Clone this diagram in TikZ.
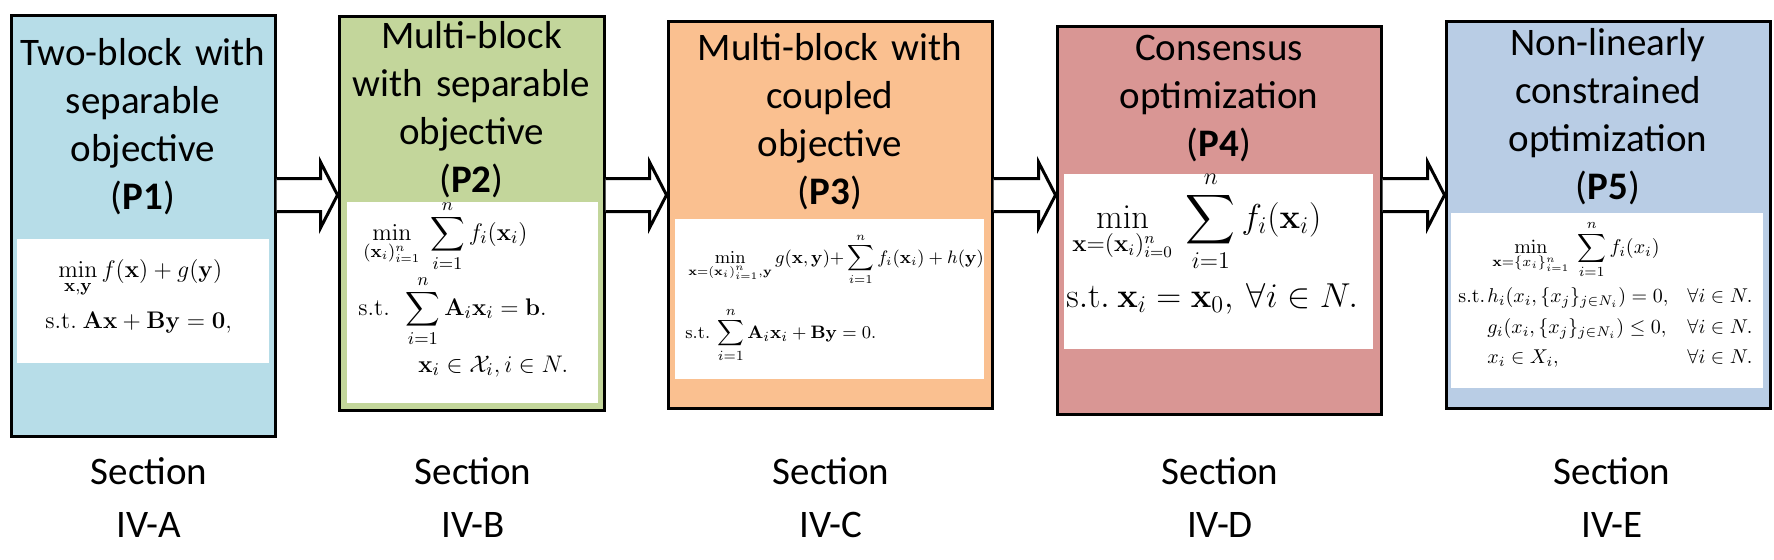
\documentclass[tikz,border=0pt]{standalone}
\usepackage{amsmath}
\usepackage[no-math]{fontspec}
\setmainfont{Carlito}
\usetikzlibrary{fit,calc}
\definecolor{cA}{HTML}{B7DDE8}
\definecolor{cB}{HTML}{C3D69B}
\definecolor{cC}{HTML}{FAC090}
\definecolor{cD}{HTML}{D99694}
\definecolor{cE}{HTML}{B9CDE5}
\begin{document}
\begin{tikzpicture}[x=0.5pt,y=-0.5pt,
  box/.style={draw=black, line width=1.5pt, inner sep=0pt},
  panel/.style={fill=white, inner sep=0pt, outer sep=0pt},
  ttl/.style={anchor=base, inner sep=0pt, text width=150pt, align=center, font=\fontsize{19.5}{24}\selectfont},
  sec/.style={anchor=base, inner sep=0pt, text width=100pt, align=center, font=\fontsize{19.5}{26.5}\selectfont},
  fm/.style={anchor=base west, inner sep=0pt, font=\fontsize{#1}{#1}\selectfont},
  blockarrow/.style={draw=black, fill=white, line width=1.5pt, line join=miter}]
\useasboundingbox (0,0) rectangle (1774,559);

% boxes
\node[box, fill=cA, fit={(11,15) (275,436)}] (b1) {};
\node[box, fill=cB, fit={(339,16) (604,410)}] (b2) {};
\node[box, fill=cC, fit={(668,21) (992,408)}] (b3) {};
\node[box, fill=cD, fit={(1057,26) (1381,414)}] (b4) {};
\node[box, fill=cE, fit={(1446,21) (1770,408)}] (b5) {};

% white panels
\node[panel, fit={(17,239) (269,363)}] (w1) {};
\node[panel, fit={(347,202) (598,403)}] (w2) {};
\node[panel, fit={(675,219) (984,379)}] (w3) {};
\node[panel, fit={(1064,174) (1373,349)}] (w4) {};
\node[panel, fit={(1451,213) (1763,388)}] (w5) {};

% block arrows
\coordinate (ay) at (0,195);
\foreach \s/\t in {b1/b2,b2/b3,b3/b4,b4/b5}{
  \draw[blockarrow] let \p1=(\s.east |- ay), \p2=(\t.west |- ay) in
    (\x1,\y1+8.25pt) -- (\x2-8.5pt,\y1+8.25pt) -- (\x2-8.5pt,\y1+16.5pt) -- (\x2,\y1)
    -- (\x2-8.5pt,\y1-16.5pt) -- (\x2-8.5pt,\y1-8.25pt) -- (\x1,\y1-8.25pt);
}

% titles
\node[ttl] (t1) at (143,65) {Two-block with\\separable\\objective\\(\textbf{P1})};
\node[ttl] (t2) at (471.5,48) {Multi-block\\with separable\\objective\\(\textbf{P2})};
\node[ttl] (t3) at (830,60) {Multi-block with\\coupled\\objective\\(\textbf{P3})};
\node[ttl] (t4) at (1219,60) {Consensus\\optimization\\(\textbf{P4})};
\node[ttl] (t5) at (1608,55) {Non-linearly\\constrained\\optimization\\(\textbf{P5})};

% formulas P1
\node[fm=13] (f1a) at (58,277) {$\displaystyle\min_{\mathbf{x},\mathbf{y}} f(\mathbf{x})+g(\mathbf{y})$};
\node[fm=13] (f1b) at (45,328) {$\mathrm{s.t.}\ \mathbf{Ax}+\mathbf{By}=\mathbf{0},$};

% formulas P2
\node[fm=13] (f2a) at (363,240) {$\displaystyle\min_{(\mathbf{x}_i)_{i=1}^n}\ \sum_{i=1}^n f_i(\mathbf{x}_i)$};
\node[fm=13] (f2b) at (358,315) {$\mathrm{s.t.}\ \ \displaystyle\sum_{i=1}^n \mathbf{A}_i\mathbf{x}_i=\mathbf{b}.$};
\node[fm=13] (f2c) at (418,372) {$\mathbf{x}_i\in\mathcal{X}_i, i\in N.$};

% formulas P3
\node[fm=9] (f3a) at (688,263) {$\displaystyle\min_{\mathbf{x}=(\mathbf{x}_i)_{i=1}^n,\mathbf{y}} g(\mathbf{x},\mathbf{y}){+}\sum_{i=1}^n f_i(\mathbf{x}_i)+h(\mathbf{y})$};
\node[fm=9.5] (f3b) at (685,338) {$\mathrm{s.t.}\ \displaystyle\sum_{i=1}^n \mathbf{A}_i\mathbf{x}_i+\mathbf{B}\mathbf{y}=0.$};

% formulas P4
\node[fm=16.5] (f4a) at (1072,228) {$\displaystyle\min_{\mathbf{x}=(\mathbf{x}_i)_{i=0}^n}\ \sum_{i=1}^n f_i(\mathbf{x}_i)$};
\node[fm=16.5] (f4b) at (1066,307) {$\mathrm{s.t.}\ \mathbf{x}_i=\mathbf{x}_0,\ \forall i\in N.$};

% formulas P5
\node[fm=10] (f5a) at (1492,253) {$\displaystyle\min_{\mathbf{x}=\{x_i\}_{i=1}^n}\ \sum_{i=1}^n f_i(x_i)$};
\node[fm=10] (f5s) at (1458,302) {$\mathrm{s.t.}$};
\node[fm=10] (f5b) at (1487,302) {$h_i(x_i,\{x_j\}_{j\in N_i})=0,$};
\node[fm=10] (f5c) at (1487,333) {$g_i(x_i,\{x_j\}_{j\in N_i})\le 0,$};
\node[fm=10] (f5d) at (1487,363) {$x_i\in X_i,$};
\node[fm=10] (f5e) at (1687,302) {$\forall i\in N.$};
\node[fm=10] (f5f) at (1687,333) {$\forall i\in N.$};
\node[fm=10] (f5g) at (1687,363) {$\forall i\in N.$};

% section labels
\node[sec] (s1) at (149,484) {Section\\IV-A};
\node[sec] (s2) at (473,484) {Section\\IV-B};
\node[sec] (s3) at (831,484) {Section\\IV-C};
\node[sec] (s4) at (1220,484) {Section\\IV-D};
\node[sec] (s5) at (1612,484) {Section\\IV-E};
\end{tikzpicture}
\end{document}
